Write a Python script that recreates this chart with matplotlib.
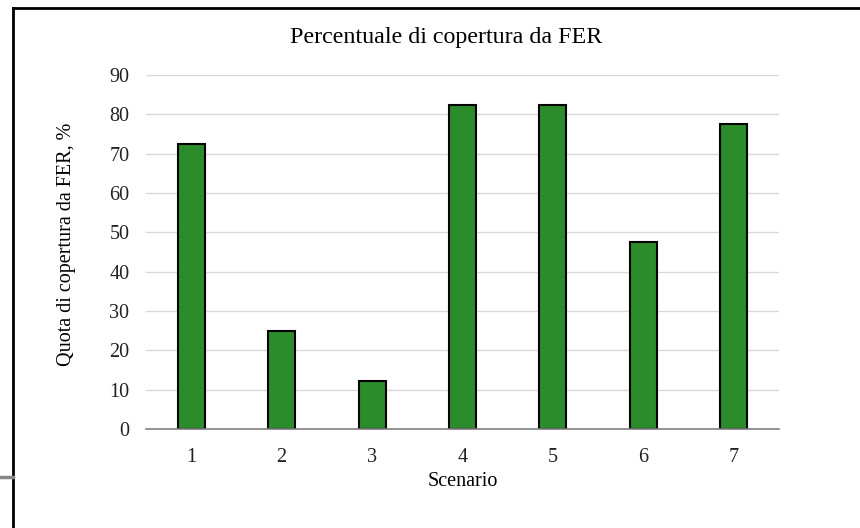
import matplotlib
matplotlib.use("Agg")
import matplotlib.pyplot as plt
from matplotlib.lines import Line2D

scenarios = ["1", "2", "3", "4", "5", "6", "7"]
coverage = [72.5, 25.0, 12.3, 82.5, 82.5, 47.5, 77.5]
yticks = [0, 10, 20, 30, 40, 50, 60, 70, 80, 90]

plt.rcParams['font.family'] = ['Liberation Serif', 'DejaVu Serif']

W, H = 860, 528
fig = plt.figure(figsize=(W/100, H/100), dpi=100)
ax = fig.add_axes([146/W, 1-429/H, (779-146)/W, (429-75)/H])

x = list(range(1, len(scenarios)+1))
ax.bar(x, coverage, width=0.3, color="#2a8c2a", edgecolor="black", linewidth=1.5, zorder=3)
ax.set_xlim(0.5, 7.5)
ax.set_ylim(0, 90)
ax.set_yticks(yticks)
ax.set_xticks(x)
ax.set_xticklabels(scenarios)
ax.yaxis.grid(True, color="#d9d9d9", linewidth=1, zorder=0)
ax.set_axisbelow(True)
for s in ["top", "right", "left"]:
    ax.spines[s].set_visible(False)
ax.spines["bottom"].set_color("#7f7f7f")
ax.spines["bottom"].set_linewidth(1.2)
ax.spines["bottom"].set_zorder(4)
ax.tick_params(axis="both", length=0, labelsize=14.5, colors="#222222")
ax.tick_params(axis="y", pad=12)
ax.tick_params(axis="x", pad=14)

ax.set_xlabel("Scenario", fontsize=14.5, labelpad=3)
ax.set_ylabel("Quota di copertura da FER, %", fontsize=14.5, labelpad=0)
ax.yaxis.set_label_coords((76 - 146) / (779 - 146), (429 - 244) / (429 - 75))
fig.text(446/W, 1-38/H, "Percentuale di copertura da FER", ha="center", va="center", fontsize=17.3)

# surrounding frame decorations
fig.add_artist(Line2D([13/W, 13/W], [0, 1-8/H], color="black", linewidth=2, transform=fig.transFigure))
fig.add_artist(Line2D([13/W, 1], [1-8/H, 1-8/H], color="black", linewidth=2, transform=fig.transFigure))
fig.add_artist(Line2D([0, 13/W], [1-477/H, 1-477/H], color="#888888", linewidth=2.5, transform=fig.transFigure))

fig.savefig("out.png", dpi=100)
